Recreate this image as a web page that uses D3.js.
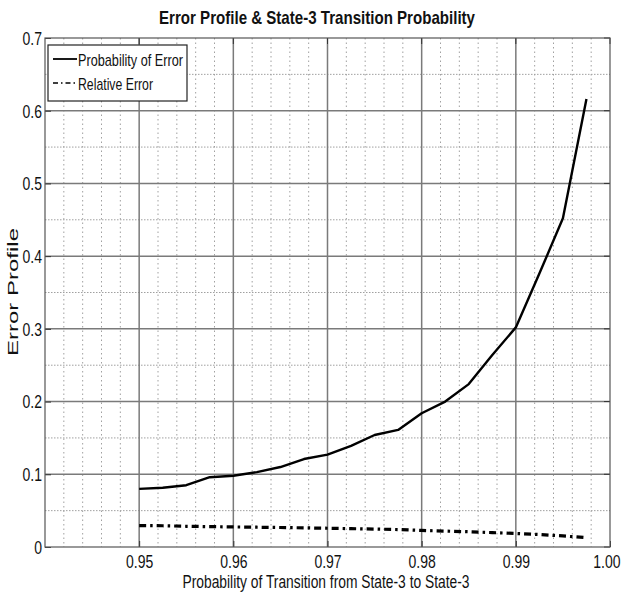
<!DOCTYPE html>
<html>
<head>
<meta charset="utf-8">
<script src="https://cdn.jsdelivr.net/npm/d3@7"></script>
<style>
  html, body { margin: 0; padding: 0; background: #fff; }
  svg { display: block; }
  .narrow { font-family: 'Liberation Sans Narrow', 'Arial Narrow', 'Liberation Sans', Arial, sans-serif; }
</style>
</head>
<body>
<svg id="chart" width="621" height="598"></svg>
<script>
// Transition probability (state-3 -> state-3)
const transitionProb = [0.95, 0.9525, 0.955, 0.9575, 0.96, 0.9625, 0.965, 0.9675, 0.97, 0.9725,
                        0.975, 0.9775, 0.98, 0.9825, 0.985, 0.9875, 0.99, 0.9925, 0.995, 0.9975];
// Probability of error
const probError = [0.080, 0.0815, 0.085, 0.096, 0.098, 0.103, 0.110, 0.121, 0.127, 0.139,
                   0.154, 0.161, 0.184, 0.200, 0.224, 0.264, 0.302, 0.376, 0.452, 0.616];
// Relative error
const relError = [0.0295, 0.0292, 0.0285, 0.0280, 0.0276, 0.0272, 0.0268, 0.0263, 0.0258, 0.0252,
                  0.0247, 0.0240, 0.0228, 0.0218, 0.0210, 0.0198, 0.0186, 0.0172, 0.0152, 0.0128];

const xTicks = [0.95, 0.96, 0.97, 0.98, 0.99, 1.00];
const xTickLabels = ["0.95", "0.96", "0.97", "0.98", "0.99", "1.00"];
const yTicks = [0, 0.1, 0.2, 0.3, 0.4, 0.5, 0.6, 0.7];
const yTickLabels = ["0", "0.1", "0.2", "0.3", "0.4", "0.5", "0.6", "0.7"];
const seriesNames = ["Probability of Error", "Relative Error"];

const titleText = "Error Profile & State-3 Transition Probability";
const xTitle = "Probability of Transition from State-3 to State-3";
const yTitle = "Error Profile";

const svg = d3.select("#chart");
const plot = { left: 45, right: 610, top: 38, bottom: 547 };
const squeeze = 0.8; // horizontal condensing of the label font

const x = d3.scaleLinear().domain([0.94, 1.00]).range([plot.left, plot.right]);
const y = d3.scaleLinear().domain([0, 0.7]).range([plot.bottom, plot.top]);

// minor grid
const minorX = d3.range(471, 500).map(i => i * 0.002).filter(v => Math.abs(v * 100 - Math.round(v * 100)) > 1e-6);
const minorY = d3.range(0.05, 0.7, 0.1);

const grid = svg.append("g");
grid.selectAll("line.mx").data(minorX).join("line")
  .attr("x1", d => x(d)).attr("x2", d => x(d))
  .attr("y1", plot.top).attr("y2", plot.bottom)
  .attr("stroke", "#a0a0a0").attr("stroke-width", 1).attr("stroke-dasharray", "1.5,3");
grid.selectAll("line.my").data(minorY).join("line")
  .attr("x1", plot.left).attr("x2", plot.right)
  .attr("y1", d => y(d)).attr("y2", d => y(d))
  .attr("stroke", "#a0a0a0").attr("stroke-width", 1).attr("stroke-dasharray", "1.5,1.5");

// major grid
grid.selectAll("line.Mx").data(xTicks.slice(0, -1)).join("line")
  .attr("x1", d => x(d)).attr("x2", d => x(d))
  .attr("y1", plot.top).attr("y2", plot.bottom)
  .attr("stroke", "#7a7a7a").attr("stroke-width", 1.5);
grid.selectAll("line.My").data(yTicks.slice(1, -1)).join("line")
  .attr("x1", plot.left).attr("x2", plot.right)
  .attr("y1", d => y(d)).attr("y2", d => y(d))
  .attr("stroke", "#7a7a7a").attr("stroke-width", 1.5);

// axes with inward ticks
const xAxis = d3.axisBottom(x).tickValues(xTicks).tickSize(-6).tickPadding(9)
  .tickFormat((d, i) => xTickLabels[i]);
const yAxis = d3.axisLeft(y).tickValues(yTicks).tickSize(-6).tickPadding(3)
  .tickFormat((d, i) => yTickLabels[i]);

const gx = svg.append("g").attr("transform", `translate(0,${plot.bottom})`).call(xAxis);
const gy = svg.append("g").attr("transform", `translate(${plot.left},0)`).call(yAxis);
[gx, gy].forEach(g => {
  g.select(".domain").remove();
  g.selectAll(".tick line").attr("stroke", "#333");
  g.selectAll(".tick text").attr("class", "narrow").attr("font-size", 17.5).attr("fill", "#111");
});
gx.selectAll(".tick text").attr("dy", "0.71em")
  .attr("transform", `scale(${squeeze},1)`).attr("x", 0);
// the last label sits on the window's right edge: keep it inside
gx.selectAll(".tick text").filter((d, i, n) => i === n.length - 1)
  .attr("text-anchor", "end").attr("x", (620 - plot.right) / squeeze);
gy.selectAll(".tick text").attr("dy", "0.36em")
  .attr("transform", `scale(${squeeze},1)`).attr("x", -3 / squeeze);

// ticks on top and right edges
svg.append("g").selectAll("line").data(xTicks).join("line")
  .attr("x1", d => x(d)).attr("x2", d => x(d))
  .attr("y1", plot.top).attr("y2", plot.top + 6).attr("stroke", "#333");
svg.append("g").selectAll("line").data(yTicks).join("line")
  .attr("x1", plot.right).attr("x2", plot.right - 6)
  .attr("y1", d => y(d)).attr("y2", d => y(d)).attr("stroke", "#333");

// plot frame
svg.append("rect")
  .attr("x", plot.left).attr("y", plot.top)
  .attr("width", plot.right - plot.left).attr("height", plot.bottom - plot.top)
  .attr("fill", "none").attr("stroke", "#555").attr("stroke-width", 1.2);

// series
const pts = (vals) => transitionProb.map((t, i) => [t, vals[i]]);
const line = d3.line().x(d => x(d[0])).y(d => y(d[1]));

svg.append("path").datum(pts(probError))
  .attr("d", line).attr("fill", "none")
  .attr("stroke", "#000").attr("stroke-width", 2.4).attr("stroke-linejoin", "round");
svg.append("path").datum(pts(relError))
  .attr("d", line).attr("fill", "none")
  .attr("stroke", "#000").attr("stroke-width", 3.2).attr("stroke-dasharray", "7,4,2.5,4");

// legend
const legend = svg.append("g");
legend.append("rect")
  .attr("x", 48).attr("y", 45).attr("width", 139).attr("height", 56)
  .attr("fill", "#fff").attr("stroke", "#222").attr("stroke-width", 1.2);
const legendRows = [
  { name: seriesNames[0], dash: null, width: 105, w: 1.8 },
  { name: seriesNames[1], dash: "5,3,1.5,3", width: 75, w: 1.4 }
];
legendRows.forEach((r, i) => {
  const cy = 59 + i * 24;
  legend.append("line")
    .attr("x1", 53).attr("x2", 77).attr("y1", cy).attr("y2", cy)
    .attr("stroke", "#000").attr("stroke-width", r.w)
    .attr("stroke-dasharray", r.dash);
  legend.append("text").attr("class", "narrow")
    .attr("x", 78).attr("y", cy + 7)
    .attr("font-size", 17).attr("fill", "#111")
    .attr("textLength", r.width).attr("lengthAdjust", "spacingAndGlyphs")
    .text(r.name);
});

// titles
svg.append("text").attr("class", "narrow")
  .attr("x", 317).attr("y", 24).attr("text-anchor", "middle")
  .attr("font-size", 18.5).attr("font-weight", "bold").attr("fill", "#111")
  .attr("textLength", 316).attr("lengthAdjust", "spacingAndGlyphs")
  .text(titleText);

svg.append("text").attr("class", "narrow")
  .attr("x", 326).attr("y", 588).attr("text-anchor", "middle")
  .attr("font-size", 17.5).attr("fill", "#111")
  .attr("textLength", 287).attr("lengthAdjust", "spacingAndGlyphs")
  .text(xTitle);

svg.append("text")
  .attr("transform", "translate(18,292) rotate(-90)")
  .attr("text-anchor", "middle")
  .attr("font-family", "'Liberation Sans', Arial, sans-serif")
  .attr("font-size", 14).attr("fill", "#111")
  .attr("textLength", 128).attr("lengthAdjust", "spacingAndGlyphs")
  .text(yTitle);
</script>
</body>
</html>
